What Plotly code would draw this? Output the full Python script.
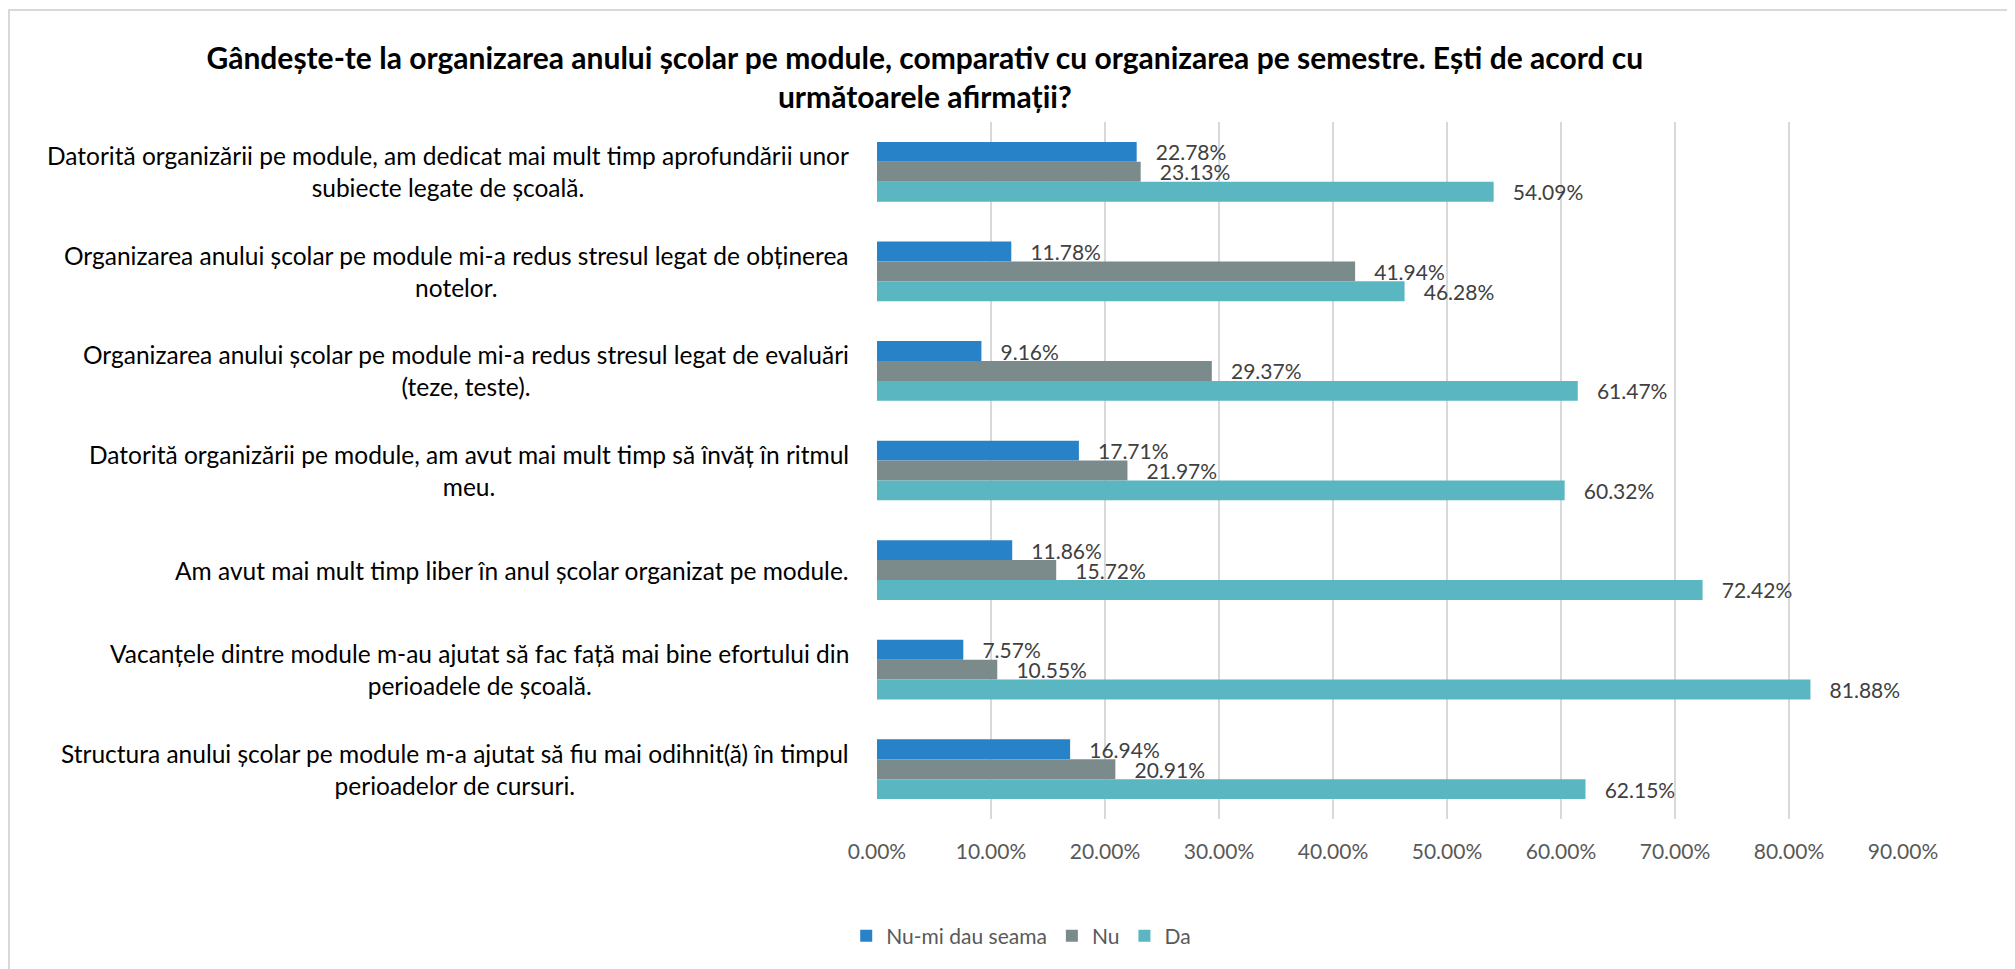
import plotly.graph_objects as go

# ========== data ==========
categories = [
    "Datorită organizării pe module, am dedicat mai mult timp aprofundării unor<br>subiecte legate de școală.",
    "Organizarea anului școlar pe module mi-a redus stresul legat de obținerea<br>notelor.",
    "Organizarea anului școlar pe module mi-a redus stresul legat de evaluări<br>(teze, teste).",
    "Datorită organizării pe module, am avut mai mult timp să învăț în ritmul<br>meu.",
    "Am avut mai mult timp liber în anul școlar organizat pe module.",
    "Vacanțele dintre module m-au ajutat să fac față mai bine efortului din<br>perioadele de școală.",
    "Structura anului școlar pe module m-a ajutat să fiu mai odihnit(ă) în timpul<br>perioadelor de cursuri.",
]
nu_stiu = [22.78, 11.78, 9.16, 17.71, 11.86, 7.57, 16.94]
nu = [23.13, 41.94, 29.37, 21.97, 15.72, 10.55, 20.91]
da = [54.09, 46.28, 61.47, 60.32, 72.42, 81.88, 62.15]

series = [
    ("Nu-mi dau seama", nu_stiu, "#2882C8"),
    ("Nu", nu, "#7B8B8C"),
    ("Da", da, "#5AB6C0"),
]

title = ("Gândește-te la organizarea anului școlar pe module, comparativ cu organizarea pe semestre. "
         "Ești de acord cu<br>următoarele afirmații?")

FONT = "Lato, 'Open Sans', sans-serif"

# ========== figure ==========
fig = go.Figure()
for name, vals, color in series:
    fig.add_trace(go.Bar(
        y=categories, x=vals, name=name, orientation="h",
        marker=dict(color=color, line=dict(width=0)),
        texttemplate="\u00a0\u00a0\u00a0%{x:.2f}%", textposition="outside",
        textfont=dict(family=FONT, size=21, color="#404040"),
        constraintext="none", cliponaxis=False,
    ))

# category labels, centred lines like the original
for cat in categories:
    fig.add_annotation(
        x=-0.0253, xref="paper", y=cat, yref="y",
        text=cat, showarrow=False, xanchor="right", align="center",
        font=dict(family=FONT, size=24.5, color="#000000"),
    )

# outer frame of the chart
fig.add_shape(type="rect", xref="paper", yref="paper",
              x0=-0.846, x1=1.13, y0=-0.24, y1=1.1607,
              line=dict(color="#D9D9D9", width=2), layer="below")

fig.update_layout(
    width=2015, height=969,
    paper_bgcolor="white", plot_bgcolor="white",
    margin=dict(l=869, r=120, t=114, b=158),
    barmode="group", bargap=0.4, bargroupgap=0,
    title=dict(text=title, x=0.455, xref="container", xanchor="center",
               y=0.937, yref="container", yanchor="top",
               font=dict(family=FONT, size=30, color="#000000", weight="bold")),
    legend=dict(orientation="h", x=-0.03, xanchor="left", y=-0.168, yanchor="middle",
                font=dict(family=FONT, size=21, color="#595959"), traceorder="normal"),
    showlegend=True,
)
fig.update_xaxes(range=[0, 90], dtick=10, tickformat=".2f", ticksuffix="%",
                 showgrid=True, gridcolor="#D9D9D9", gridwidth=2, zeroline=False,
                 showline=False, ticks="", ticklabelstandoff=18,
                 tickfont=dict(family=FONT, size=21, color="#595959"))
fig.update_yaxes(autorange="reversed", showticklabels=False, showgrid=False,
                 zeroline=False, showline=False, ticks="")

fig.write_html("out.html")
